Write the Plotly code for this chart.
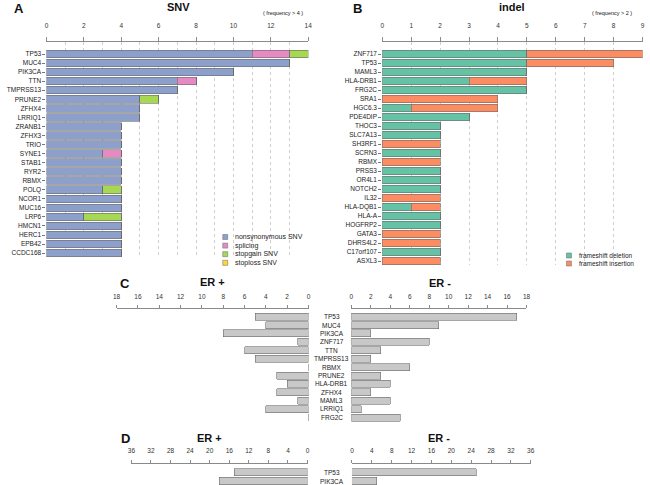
import plotly.graph_objects as go

W, H = 650, 485
def fx(p): return p / W
def fy(p): return 1 - p / H

# ---------------- data ----------------
snv_genes = ["TP53", "MUC4", "PIK3CA", "TTN", "TMPRSS13", "PRUNE2", "ZFHX4", "LRRIQ1",
             "ZRANB1", "ZFHX3", "TRIO", "SYNE1", "STAB1", "RYR2", "RBMX", "POLQ",
             "NCOR1", "MUC16", "LRP6", "HMCN1", "HERC1", "EPB42", "CCDC168"]
snv_nonsyn   = [11, 13, 10, 7, 7, 5, 5, 5, 4, 4, 4, 3, 4, 4, 4, 3, 4, 4, 2, 4, 4, 4, 4]
snv_splicing = [2, 0, 0, 1, 0, 0, 0, 0, 0, 0, 0, 1, 0, 0, 0, 0, 0, 0, 0, 0, 0, 0, 0]
snv_stopgain = [1, 0, 0, 0, 0, 1, 0, 0, 0, 0, 0, 0, 0, 0, 0, 1, 0, 0, 2, 0, 0, 0, 0]
snv_stoploss = [0, 0, 0, 0, 0, 0, 0, 0, 0, 0, 0, 0, 0, 0, 0, 0, 0, 0, 0, 0, 0, 0, 0]

indel_genes = ["ZNF717", "TP53", "MAML3", "HLA-DRB1", "FRG2C", "SRA1", "HGC6.3", "PDE4DIP",
               "THOC3", "SLC7A13", "SH3RF1", "SCRN3", "RBMX", "PRSS3", "OR4L1", "NOTCH2",
               "IL32", "HLA-DQB1", "HLA-A", "HOGFRP2", "GATA3", "DHRS4L2", "C17orf107", "ASXL3"]
indel_del = [5, 5, 5, 3, 5, 0, 1, 3, 2, 2, 0, 2, 0, 2, 2, 2, 0, 1, 2, 2, 0, 0, 2, 0]
indel_ins = [4, 3, 0, 2, 0, 4, 3, 0, 0, 0, 2, 0, 2, 0, 0, 0, 2, 1, 0, 0, 2, 2, 0, 2]

er_genes = ["TP53", "MUC4", "PIK3CA", "ZNF717", "TTN", "TMPRSS13", "RBMX", "PRUNE2",
            "HLA-DRB1", "ZFHX4", "MAML3", "LRRIQ1", "FRG2C"]
er_pos = [5, 4, 8, 1, 6, 5, 0, 3, 2, 3, 1, 4, 0]
er_neg = [17, 9, 2, 8, 3, 2, 6, 3, 4, 2, 4, 1, 5]

d_genes = ["TP53", "PIK3CA"]
d_pos = [15, 18]
d_neg = [25, 5]

# ---------------- styling ----------------
FONT = "Liberation Sans, Arial, sans-serif"
C_NONSYN, C_SPLICE, C_STOPGAIN, C_STOPLOSS = "#8da0cb", "#e78ac3", "#a6d854", "#ffd92f"
C_DEL, C_INS = "#66c2a5", "#fc8d62"
C_GRAY = "#c8c8c8"
EDGE = dict(color="#6a6a6a", width=0.6)

fig = go.Figure()

def hbar(x, y, color, xa, ya, name):
    fig.add_trace(go.Bar(x=x, y=y, orientation="h", name=name, marker=dict(color=color, line=EDGE),
                         xaxis=xa, yaxis=ya, showlegend=False, hoverinfo="x+y+name"))

hbar(snv_nonsyn, snv_genes, C_NONSYN, "x", "y", "nonsynonymous SNV")
hbar(snv_splicing, snv_genes, C_SPLICE, "x", "y", "splicing")
hbar(snv_stopgain, snv_genes, C_STOPGAIN, "x", "y", "stopgain SNV")
hbar(snv_stoploss, snv_genes, C_STOPLOSS, "x", "y", "stoploss SNV")

hbar(indel_del, indel_genes, C_DEL, "x2", "y2", "frameshift deletion")
hbar(indel_ins, indel_genes, C_INS, "x2", "y2", "frameshift insertion")

hbar(er_pos, er_genes, C_GRAY, "x3", "y3", "ER +")
hbar(er_neg, er_genes, C_GRAY, "x4", "y4", "ER -")
hbar(d_pos, d_genes, C_GRAY, "x5", "y5", "ER +")
hbar(d_neg, d_genes, C_GRAY, "x6", "y6", "ER -")

def xax(dom, rng, dtick, anchor, grid=False, minor=None, ticklen=4, standoff=4):
    d = dict(domain=[fx(dom[0]), fx(dom[1])], range=rng, dtick=dtick, tick0=0, side="top",
             anchor=anchor, ticks="outside", ticklen=ticklen, tickcolor="#8a8a8a", tickwidth=1,
             showline=True, linecolor="#8a8a8a", linewidth=1, zeroline=False,
             tickfont=dict(size=6.5, color="#333", family=FONT), ticklabelstandoff=standoff,
             showgrid=grid, gridcolor="#cfcfcf", griddash="dot", gridwidth=1, fixedrange=True)
    if minor:
        d["minor"] = dict(dtick=minor, showgrid=True, gridcolor="#cfcfcf", griddash="dot", ticks="")
    return d

def yax(genes, top_px, first_px, spacing, bottom_px, anchor, labels=True):
    top_val = -(first_px - top_px) / spacing
    bot_val = (bottom_px - top_px) / spacing + top_val
    return dict(domain=[max(0, fy(bottom_px)), fy(top_px)], type="category", categoryorder="array",
                categoryarray=genes, range=[bot_val, top_val], anchor=anchor,
                showticklabels=labels, ticks="outside" if labels else "", ticklen=3,
                tickcolor="#777", showline=False, showgrid=False, zeroline=False,
                tickfont=dict(size=6.5, color="#222", family=FONT), fixedrange=True)

fig.update_layout(
    xaxis=xax((43, 308), [0, 14], 2, "y", grid=True, minor=1, ticklen=4, standoff=6),
    yaxis=yax(snv_genes, 42, 54, 9.05, 257, "x"),
    xaxis2=xax((383, 646.5), [0, 9], 1, "y2", grid=True, ticklen=4, standoff=6),
    yaxis2=yax(indel_genes, 42, 54, 9.0, 265, "x2"),
    xaxis3=xax((114, 308.3), [18, 0], 2, "y3", ticklen=3, standoff=4),
    yaxis3=yax(er_genes, 309.3, 316.6, 8.42, 422, "x3", labels=False),
    xaxis4=xax((351.7, 529), [0, 18], 2, "y4", ticklen=3, standoff=4),
    yaxis4=yax(er_genes, 309.3, 316.6, 8.42, 422, "x4", labels=False),
    xaxis5=xax((129, 307.3), [36, 0], 4, "y5", ticklen=3, standoff=4),
    yaxis5=yax(d_genes, 464, 472.3, 8.7, 485, "x5", labels=False),
    xaxis6=xax((352.3, 533.3), [0, 36], 4, "y6", ticklen=3, standoff=4),
    yaxis6=yax(d_genes, 464, 472.3, 8.7, 485, "x6", labels=False),
    barmode="stack", bargap=0.17,
    width=W, height=H, margin=dict(l=0, r=0, t=0, b=0),
    paper_bgcolor="white", plot_bgcolor="white",
    font=dict(family=FONT, color="#222"), showlegend=False,
)

anns = []
def txt(x, y, s, size, bold=False, xanchor="center", color="#111"):
    anns.append(dict(x=fx(x), y=fy(y), xref="paper", yref="paper", text=("<b>%s</b>" % s) if bold else s,
                     showarrow=False, xanchor=xanchor, yanchor="middle",
                     font=dict(size=size, family=FONT, color=color)))

txt(15, 8, "A", 13, True)
txt(177, 7, "SNV", 11, True)
txt(282, 12.5, "( frequency &gt; 4 )", 5.5)
txt(358, 8, "B", 13, True)
txt(514, 7, "indel", 11, True)
txt(616, 13, "( frequency &gt; 2 )", 5.5)
txt(123, 283, "C", 13, True)
txt(211, 282, "ER +", 11, True)
txt(441, 283, "ER -", 11, True)
txt(123, 438, "D", 13, True)
txt(208, 438, "ER +", 11, True)
txt(440, 438, "ER -", 11, True)

# centre gene labels for panels C and D, positioned through the category axes
for g in er_genes:
    anns.append(dict(x=fx(332), y=g, xref="paper", yref="y4", text=g, showarrow=False,
                     xanchor="center", yanchor="middle", font=dict(size=6.5, family=FONT, color="#222")))
for g in d_genes:
    anns.append(dict(x=fx(332), y=g, xref="paper", yref="y6", text=g, showarrow=False,
                     xanchor="center", yanchor="middle", font=dict(size=6.5, family=FONT, color="#222")))

# compact legends
shapes = []
def legend(x0, y0, step, items, size):
    for i, (lab, col) in enumerate(items):
        yy = y0 + i * step
        shapes.append(dict(type="rect", xref="paper", yref="paper", x0=fx(x0 - 2.5), x1=fx(x0 + 2.5),
                           y0=fy(yy + 2.5), y1=fy(yy - 2.5), fillcolor=col, line=dict(color="#777", width=0.6)))
        anns.append(dict(x=fx(x0 + 8), y=fy(yy), xref="paper", yref="paper", text=lab, showarrow=False,
                         xanchor="left", yanchor="middle", font=dict(size=size, family=FONT, color="#222")))

legend(224, 237, 8.6, [("nonsynonymous SNV", C_NONSYN), ("splicing", C_SPLICE),
                       ("stopgain SNV", C_STOPGAIN), ("stoploss SNV", C_STOPLOSS)], 7)
legend(572, 255.5, 8.0, [("frameshift deletion", C_DEL), ("frameshift insertion", C_INS)], 6.5)

fig.update_layout(annotations=anns, shapes=shapes)
# remove the default 8px page margin so the 650x485 figure fills the window exactly
fig.write_html("out.html", config={"displayModeBar": False},
               post_script="document.body.style.margin='0px';")
